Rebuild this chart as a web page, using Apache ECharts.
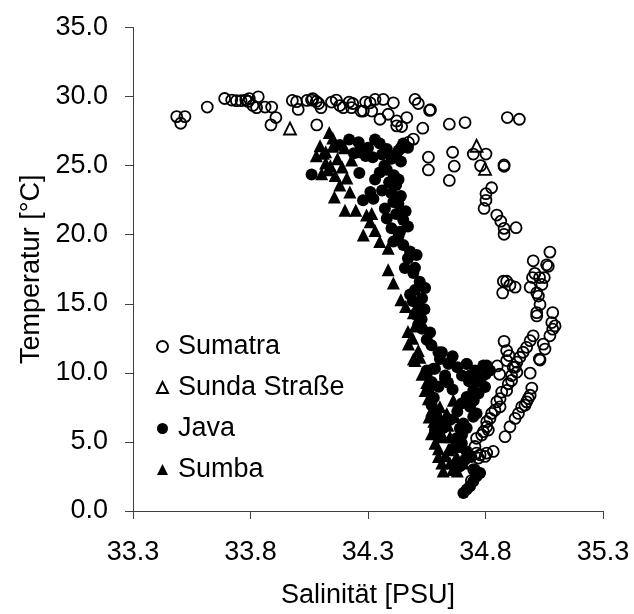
<!DOCTYPE html>
<html>
<head>
<meta charset="utf-8">
<script src="https://cdn.jsdelivr.net/npm/echarts@6/dist/echarts.min.js"></script>
<style>
  html, body { margin: 0; padding: 0; background: #ffffff; }
  #chart { width: 634px; height: 614px; }
</style>
</head>
<body>
<div id="chart"></div>
<script>
// Salinity [PSU] / temperature [°C] pairs per region
const sumatra = [
  [33.486,28.55],[33.521,28.55],[33.503,28.07],[33.616,29.24],[33.69,29.86],[33.72,29.75],[33.74,29.7],[33.76,29.7],
  [33.78,29.75],[33.795,29.85],[33.79,29.65],[33.833,29.98],[33.81,29.36],[33.826,29.2],[33.862,29.24],[33.89,29.24],
  [33.908,28.48],[33.887,27.95],[34.082,27.95],[33.978,29.72],[33.996,29.63],[34.003,29.07],[34.04,29.72],[34.06,29.75],
  [34.065,29.85],[34.08,29.65],[34.09,29.5],[34.10,29.2],[34.145,29.6],[34.165,29.75],[34.18,29.35],[34.195,29.2],
  [34.22,29.6],[34.235,29.5],[34.23,29.2],[34.27,28.95],[34.29,29.6],[34.28,28.95],[34.309,29.55],[34.33,29.79],
  [34.365,29.79],[34.408,29.55],[34.316,28.95],[34.351,28.36],[34.386,28.72],[34.422,28.24],[34.465,28.48],[34.422,27.88],
  [34.443,27.83],[34.50,29.79],[34.514,29.50],[34.562,29.0],[34.566,29.05],[34.533,27.71],[34.646,28.0],[34.713,28.12],
  [34.893,28.48],[34.944,28.36],[34.493,26.92],[34.472,26.68],[34.443,26.32],[34.557,25.61],[34.557,24.69],[34.66,25.97],
  [34.667,24.96],[34.646,23.93],[34.748,25.84],[34.802,25.84],[34.779,25.0],[34.879,25.05],[34.879,24.95],[34.826,23.4],
  [34.802,22.97],[34.802,22.49],[34.794,21.9],[34.848,21.42],[34.865,20.98],[34.879,20.46],[34.879,20.03],[34.93,20.51],
  [35.074,18.74],[35.003,18.11],[35.06,17.82],[35.067,17.71],[35.01,17.2],[35.03,16.9],[35.05,16.9],[35.0,16.9],
  [35.04,16.4],[34.876,16.63],[34.89,16.63],[34.904,16.35],[34.926,16.2],[34.873,15.79],[34.99,16.2],[35.018,15.79],
  [35.025,15.56],[35.032,14.95],[35.018,14.36],[35.018,14.12],[35.086,14.36],[35.082,13.64],[35.096,13.4],[35.086,13.16],
  [35.074,12.68],[35.046,12.08],[35.053,11.72],[35.003,12.68],[34.99,12.33],[34.975,11.85],[34.96,11.49],[34.946,11.13],
  [34.933,10.77],[34.918,10.41],[34.879,12.28],[34.89,11.61],[34.9,11.25],[34.89,10.89],[35.029,11.0],[35.032,10.93],
  [34.99,9.98],[34.997,8.9],[34.99,8.38],[34.982,8.14],[34.975,7.90],[34.968,7.66],[34.954,7.54],[34.94,7.06],
  [34.926,6.7],[34.904,6.1],[34.883,5.38],[34.926,10.41],[34.933,10.05],[34.911,9.81],[34.911,9.45],[34.897,9.21],
  [34.89,8.73],[34.869,8.61],[34.862,8.13],[34.848,7.9],[34.862,7.54],[34.84,7.30],[34.826,7.06],[34.819,6.70],
  [34.805,6.46],[34.805,6.10],[34.812,5.86],[34.791,5.74],[34.784,5.50],[34.762,5.26],[34.755,4.67],[34.762,4.19],
  [34.777,4.07],[34.805,4.19],[34.833,4.31],[34.798,3.95],[34.77,3.83],[34.75,3.0],[34.76,2.6],[34.74,2.2],
  [34.86,9.9],[34.85,10.5]
];
const sundaStrasse = [
  [33.968,27.69],[34.762,26.44],[34.798,24.77]
];
const java = [
  [34.06,24.36],[34.263,24.46],[34.31,23.09],[34.18,26.5],[34.22,26.9],[34.26,26.7],[34.24,25.9],[34.30,26.3],
  [34.32,25.6],[34.35,26.6],[34.38,26.2],[34.40,25.5],[34.43,26.1],[34.45,26.6],[34.37,25.0],[34.41,24.3],
  [34.39,23.8],[34.36,23.2],[34.42,23.6],[34.33,24.0],[34.279,22.49],[34.323,22.61],[34.408,22.37],[34.429,22.25],
  [34.372,21.9],[34.38,21.18],[34.45,21.06],[34.40,20.46],[34.436,20.22],[34.408,19.50],[34.45,19.26],[34.479,18.79],
  [34.507,18.54],[34.457,17.59],[34.493,17.23],[34.543,16.15],[34.479,15.67],[34.514,14.95],[34.528,13.88],[34.564,12.92],
  [34.50,14.24],[34.514,13.52],[34.614,11.49],[34.642,10.65],[34.55,9.93],[34.585,10.29],[34.72,10.65],[34.805,10.53],
  [34.628,9.81],[34.755,10.17],[34.55,10.17],[34.578,10.29],[34.606,11.0],[34.649,10.77],[34.628,9.57],[34.571,9.33],
  [34.557,8.73],[34.571,7.66],[34.592,6.82],[34.606,6.34],[34.585,5.87],[34.60,5.38],[34.72,10.65],[34.791,10.53],
  [34.819,10.17],[34.734,9.81],[34.762,9.33],[34.798,8.97],[34.748,8.73],[34.72,8.26],[34.734,7.54],[34.762,7.06],
  [34.748,6.82],[34.706,6.34],[34.691,5.98],[34.677,5.26],[34.699,4.90],[34.713,3.71],[34.691,3.23],[34.706,1.31],
  [34.72,1.56],[34.734,1.79],[34.748,2.15],[34.762,2.51],[34.777,2.75],[34.755,2.99],
  [34.27,26.2],[34.29,25.7],[34.33,26.9],[34.36,25.8],[34.42,25.8],[34.47,26.3],[34.44,25.3],[34.35,24.5],
  [34.38,24.7],[34.43,24.0],[34.40,23.0],[34.44,22.8],[34.46,21.7],[34.42,21.5],[34.47,20.6],[34.43,19.9],
  [34.47,18.3],[34.50,17.6],[34.52,16.6],[34.50,16.0],[34.53,15.4],[34.49,15.2],[34.54,14.6],[34.53,13.2],
  [34.55,12.4],[34.57,12.0],[34.60,11.5],[34.66,11.2],[34.68,10.4],[34.70,9.8],[34.73,9.4],[34.78,9.6],
  [34.80,9.9],[34.77,8.5],[34.75,8.0],[34.70,7.8],[34.68,7.2],[34.65,6.6],[34.72,6.0],[34.70,5.5],
  [34.66,4.5],[34.72,4.3],[34.74,3.9],[34.68,3.5],[34.62,6.0],[34.59,7.2],[34.58,8.2],[34.60,9.0],
  [34.66,8.8],[34.64,9.3]
];
const sumba = [
  [34.135,27.4],[34.096,26.44],[34.08,25.72],[34.11,25.9],[34.15,26.4],[34.12,25.2],[34.14,25.0],[34.17,25.5],
  [34.103,24.41],[34.16,24.29],[34.13,24.7],[34.157,22.73],[34.223,23.09],[34.202,21.77],[34.248,21.77],[34.294,21.42],
  [34.20,26.3],[34.25,26.0],[34.23,25.4],[34.19,24.9],[34.309,20.94],[34.28,19.98],[34.316,21.54],[34.386,19.02],
  [34.386,17.47],[34.408,16.51],[34.493,14.36],[34.50,13.40],[34.472,12.08],[34.514,11.61],[34.50,10.89],[34.521,11.13],
  [34.493,11.0],[34.543,8.73],[34.557,8.13],[34.571,7.30],[34.606,7.54],[34.663,8.02],[34.67,6.82],[34.635,7.06],
  [34.592,6.10],[34.585,4.90],[34.60,3.95],[34.614,3.47],[34.649,3.47],[34.677,3.95],[34.691,4.67],[34.642,4.43],
  [34.706,3.47],[34.62,5.38],[34.649,5.38],
  [34.58,6.5],[34.60,4.5],[34.63,4.0],[34.66,3.0],[34.68,2.9],[34.62,2.9],[34.56,6.8],[34.57,5.6],
  [34.64,6.2],[34.55,9.3],[34.53,9.9],[34.47,13.0],[34.49,12.5],[34.44,15.3],[34.46,14.8],[34.35,19.5],
  [34.33,20.3],[34.21,24.1],[34.18,23.6],[34.12,26.0],[34.15,27.0]
];

const seriesNames = ['Sumatra', 'Sunda Straße', 'Java', 'Sumba'];
const xAxisName = 'Salinität [PSU]';
const yAxisName = 'Temperatur [°C]';

const FONT = '"Liberation Sans", Arial, sans-serif';
const axisLine = { show: true, lineStyle: { color: '#404040', width: 1 } };
const axisTick = { show: true, inside: false, length: 8, lineStyle: { color: '#404040', width: 1 } };

const hollow = { color: 'rgba(255,255,255,0)', borderColor: '#000', borderWidth: 1.8, opacity: 1 };
const solid = { color: '#000', borderColor: '#000', borderWidth: 0, opacity: 1 };

const chart = echarts.init(document.getElementById('chart'), null, { renderer: 'canvas' });
chart.setOption({
  backgroundColor: '#ffffff',
  animation: false,
  grid: { left: 133, right: 31, top: 27.5, bottom: 99 },
  legend: {
    orient: 'vertical',
    left: 156,
    top: 333,
    itemWidth: 11,
    itemHeight: 11,
    itemGap: 14,
    padding: 0,
    textStyle: { fontFamily: FONT, fontSize: 27, color: '#000', padding: [0, 0, 0, 5] },
    data: seriesNames
  },
  xAxis: {
    type: 'value',
    min: 33.3, max: 35.3, interval: 0.5,
    name: xAxisName, nameLocation: 'middle', nameGap: 71,
    nameTextStyle: { fontFamily: FONT, fontSize: 27, color: '#000' },
    axisLine: axisLine, axisTick: axisTick,
    splitLine: { show: false },
    axisLabel: { fontFamily: FONT, fontSize: 27, color: '#000', margin: 28, formatter: v => v.toFixed(1) }
  },
  yAxis: {
    type: 'value',
    min: 0, max: 35, interval: 5,
    name: yAxisName, nameLocation: 'middle', nameGap: 82,
    nameTextStyle: { fontFamily: FONT, fontSize: 27, color: '#000' },
    axisLine: axisLine, axisTick: axisTick,
    splitLine: { show: false },
    axisLabel: { fontFamily: FONT, fontSize: 27, color: '#000', margin: 25, formatter: v => v.toFixed(1) }
  },
  series: [
    { name: seriesNames[0], type: 'scatter', data: sumatra, symbol: 'circle', symbolSize: 11, itemStyle: hollow },
    { name: seriesNames[1], type: 'scatter', data: sundaStrasse, symbol: 'triangle', symbolSize: 12, itemStyle: hollow },
    { name: seriesNames[2], type: 'scatter', data: java, symbol: 'circle', symbolSize: 12, itemStyle: solid },
    { name: seriesNames[3], type: 'scatter', data: sumba, symbol: 'triangle', symbolSize: 13, itemStyle: solid }
  ]
});
</script>
</body>
</html>
